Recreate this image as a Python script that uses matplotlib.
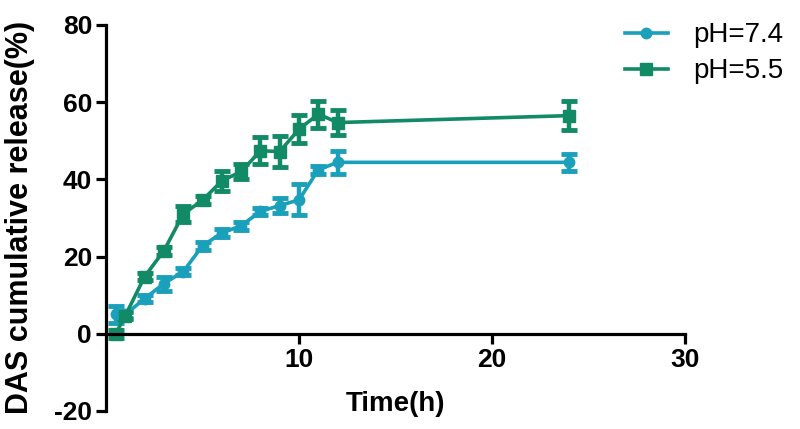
import matplotlib
matplotlib.use("Agg")
import matplotlib.pyplot as plt
from matplotlib.lines import Line2D

plt.rcParams['font.family'] = ['Liberation Sans', 'DejaVu Sans']
plt.rcParams['axes.unicode_minus'] = False

time_h = [0.5, 1, 2, 3, 4, 5, 6, 7, 8, 9, 10, 11, 12, 24]
ph74 = [5.1, 5.0, 9.1, 13.0, 16.1, 22.8, 26.1, 28.0, 31.7, 33.2, 34.7, 42.5, 44.4, 44.4]
ph74_err = [2.2, 1.0, 1.0, 1.8, 1.0, 1.0, 1.0, 1.0, 1.0, 2.0, 4.0, 1.0, 3.0, 2.2]
ph55 = [0.0, 4.7, 14.8, 21.5, 31.0, 34.6, 39.6, 42.0, 47.4, 47.2, 53.0, 56.9, 54.7, 56.5]
ph55_err = [1.0, 1.0, 1.0, 1.0, 2.0, 1.0, 2.5, 2.0, 3.5, 4.0, 3.7, 3.5, 3.3, 3.7]
labels = ['pH=7.4', 'pH=5.5']

c74 = '#1aa0bb'
c55 = '#138a66'

fig = plt.figure(figsize=(8, 4.29), dpi=100)
ax = fig.add_axes([0.1325, 0.042, 0.724, 0.900])

ax.errorbar(time_h, ph74, yerr=ph74_err, color=c74, marker='o', markersize=7.5,
            linewidth=2.6, elinewidth=3.2, capsize=5.5, capthick=3.5)
ax.errorbar(time_h, ph55, yerr=ph55_err, color=c55, marker='s', markersize=8.5,
            linewidth=2.6, elinewidth=3.2, capsize=5.5, capthick=3.5)

ax.set_xlim(0, 30)
ax.set_ylim(-20, 80)
ax.set_xticks([10, 20, 30])
ax.set_yticks([-20, 0, 20, 40, 60, 80])

ax.spines['top'].set_visible(False)
ax.spines['right'].set_visible(False)
ax.spines['bottom'].set_position(('data', 0))
for s in ['left', 'bottom']:
    ax.spines[s].set_linewidth(2.3)
ax.tick_params(direction='out', length=7, width=2.3, labelsize=19, pad=3)
for lab in ax.get_xticklabels() + ax.get_yticklabels():
    lab.set_fontweight('bold')

ax.set_ylabel('DAS cumulative release(%)', fontsize=22, fontweight='bold')
ax.set_xlabel('Time(h)', fontsize=20, fontweight='bold')
ax.xaxis.set_label_coords(0.5, 0.052)
ax.yaxis.set_label_coords(-0.123, 0.5)

handles = [Line2D([], [], color=c74, marker='o', markersize=7.5, linewidth=2.6),
           Line2D([], [], color=c55, marker='s', markersize=8.5, linewidth=2.6)]
fig.legend(handles, labels, loc='upper left', bbox_to_anchor=(0.781, 0.948),
           frameon=False, fontsize=20, borderpad=0, borderaxespad=0,
           handlelength=1.55, handletextpad=0.9, labelspacing=0.36)

fig.savefig('out.png', dpi=100)
